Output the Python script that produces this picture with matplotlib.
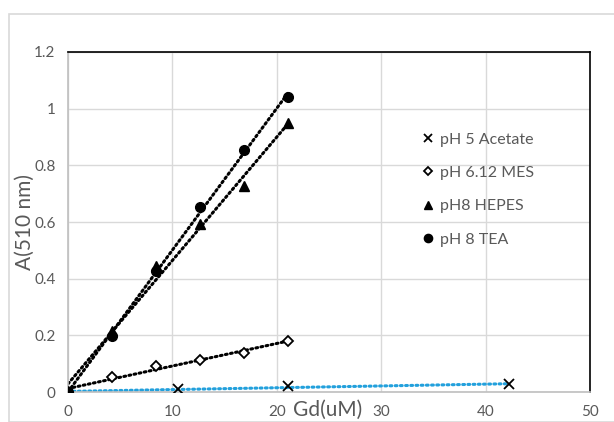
import numpy as np
import matplotlib
matplotlib.use('Agg')
import matplotlib.pyplot as plt
from matplotlib.patches import Rectangle

plt.rcParams['font.family'] = ['Lato', 'DejaVu Sans']

# data (Gd in uM, absorbance at 510 nm)
gd_acetate = [0, 10.55, 21.1, 42.2]
a_acetate = [0, 0.009, 0.020, 0.027]

gd = [0, 4.22, 8.44, 12.66, 16.88, 21.1]
a_mes = [0, 0.054, 0.092, 0.112, 0.139, 0.180]
a_hepes = [0, 0.215, 0.445, 0.593, 0.727, 0.950]
a_tea = [0, 0.198, 0.427, 0.652, 0.854, 1.040]

labels = ['pH 5 Acetate', 'pH 6.12 MES', 'pH8 HEPES', 'pH 8 TEA']

gray = '#595959'

fig = plt.figure(figsize=(6.14, 4.22), dpi=100)
ax = fig.add_axes([68/614, 1-392/422, (590-68)/614, (392-52)/422])

# outer chart border
fig.patches.append(Rectangle((9/614, 0), 1, 1-14/422, transform=fig.transFigure,
                             fill=False, edgecolor='#d9d9d9', lw=1.2))

# linear trend lines
def trend(x, y, color):
    k, b = np.polyfit(x, y, 1)
    xx = np.array([min(x), max(x)])
    ax.plot(xx, k*xx+b, linestyle=(0, (0.6, 1.1)), color=color, lw=2.2,
            dash_capstyle='round', zorder=2)

trend(gd_acetate, a_acetate, '#22a0dc')
trend(gd, a_mes, 'black')
trend(gd, a_hepes, 'black')
trend(gd, a_tea, 'black')

ax.plot(gd_acetate, a_acetate, 'x', color='black', ms=7, mew=1.3, label=labels[0], zorder=3)
ax.plot(gd, a_mes, 'D', mfc='white', mec='black', ms=5, mew=1.3, label=labels[1], zorder=3)
ax.plot(gd, a_hepes, '^', color='black', ms=7, label=labels[2], zorder=3)
ax.plot(gd, a_tea, 'o', color='black', ms=7, label=labels[3], zorder=3)

ax.set_xlim(0, 50)
ax.set_ylim(0, 1.2)
ax.set_xticks([0, 10, 20, 30, 40, 50])
ax.set_yticks([0, 0.2, 0.4, 0.6, 0.8, 1, 1.2])
ax.set_yticklabels(['0', '0.2', '0.4', '0.6', '0.8', '1', '1.2'])
ax.grid(True, color='#d9d9d9', lw=1)
ax.set_axisbelow(True)
ax.tick_params(length=0, labelsize=11, labelcolor=gray, pad=9)
ax.spines['top'].set_color('black')
ax.spines['right'].set_color('black')
ax.spines['left'].set_color('#bfbfbf')
ax.spines['bottom'].set_color('#bfbfbf')
for s in ax.spines.values():
    s.set_linewidth(1.2)

fig.text(328/614, 1-410/422, 'Gd(uM)', ha='center', va='center', fontsize=15, color=gray)
fig.text(25/614, 1-222/422, 'A(510 nm)', ha='center', va='center', rotation=90,
         fontsize=15, color=gray)

ax.legend(loc='center left', bbox_to_anchor=(422/614, 1-189.5/422),
          bbox_transform=fig.transFigure, frameon=False, fontsize=11.5,
          labelcolor=gray, handlelength=0.7, handletextpad=0.4, markerscale=0.85,
          labelspacing=1.2, borderpad=0, borderaxespad=0)

fig.savefig('out.png', dpi=100)
